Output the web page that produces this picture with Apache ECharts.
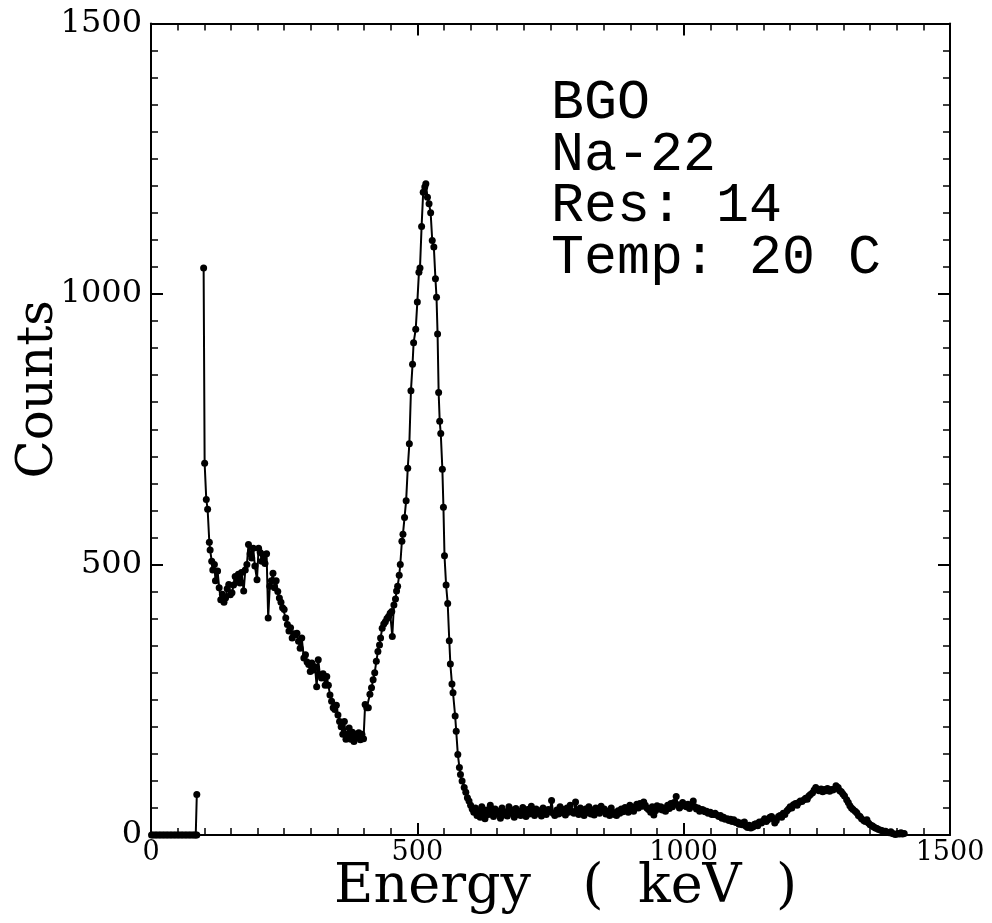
<!DOCTYPE html>
<html>
<head>
<meta charset="utf-8">
<script src="https://cdn.jsdelivr.net/npm/echarts@6/dist/echarts.min.js"></script>
<style>
html,body{margin:0;padding:0;background:#fff;}
#chart{width:992px;height:923px;}
</style>
</head>
<body>
<div id="chart"></div>
<script>
// ---- data ----
const energyKeV = [
  1,4,8,11,15,18,22,25,29,32,36,39,43,46,50,53,57,60,64,67,71,74,78,81,84,86,86,
  90,
  98.8,100.7,103.8,106.3,109.5,111,114,116,119,121,125,128,131,134,137,140,143,146,149,152,155,158,161,164,167,170,174,177,180,183,186,189,192,195,199,202,205,208,211,214,217,220,223,226,229,232,235,238,241,244,247,250,253,256,259,262,265,268,271,274,277,280,283,287,290,293,296,299,302,305,308,311,314,317,320,323,327,330,333,336,339,342,345,348,351,354,357,360,363,366,369,372,375,378,381,384,387,390,393,396,399,
  402,405,408,411,414,417,420,423,426,429,431,434,437,440,443,446,449,452,453,456,459,461,463,466,468,471,473,476,479,482,485,488,491,493,497,500,503,505,508,511,514,516,519,522,525,528,531,534,536,538,540,542,544,547,549,551,554,557,560,562,565,567,571,573,576,579,581,584,588,591,594,597,600,603,
  606,609,612,615,618,621,624,627,630,634,637,640,643,646,650,653,656,659,662,666,669,672,675,678,682,685,688,691,694,698,701,704,707,710,714,717,720,723,726,730,733,736,739,742,746,749,752,755,758,762,765,768,771,774,778,781,784,787,790,794,797,800,803,806,810,813,816,819,822,826,829,832,835,838,842,845,848,851,854,858,861,864,867,870,874,877,880,883,886,890,893,896,899,902,906,909,912,915,918,922,925,928,931,934,938,941,944,947,950,954,957,960,963,966,970,973,976,979,982,986,989,992,995,998,
  1002,1005,1008,1011,1014,1018,1021,1024,1027,1030,1034,1037,1040,1043,1046,1050,1053,1056,1059,1062,1066,1069,1072,1075,1078,1082,1085,1088,1091,1094,1098,1101,1104,1107,1110,1114,1117,1120,1123,1126,1130,1133,1136,1139,1142,1146,1149,1152,1155,1158,1162,1165,1168,1171,1174,1178,1181,1184,1187,1190,1194,1197,1200,1203,1206,1210,1213,1216,1219,1222,1226,1229,1232,1235,1238,1242,1245,1248,1251,1254,1258,1261,1264,1267,1270,1274,1277,1280,1283,1286,1290,1293,1296,1299,1302,1306,1309,1312,1315,1318,1322,1325,1328,1331,1334,1338,1341,1344,1347,1350,1354,1357,1360,1363,1366,1370,1373,1376,1379,1382,1386,1389,1392,1395,1398,1402,1405,1408,1411,1414
];
const counts = [
  0,0,0,0,0,0,0,0,0,0,0,0,0,0,0,0,0,0,0,0,0,0,0,0,0,0,75,
  null,
  1048,687,620,602,541,527,506,490,500,470,488,457,435,445,430,438,455,463,444,448,462,478,470,482,466,485,451,490,500,537,520,512,530,497,472,530,522,506,518,502,520,401,460,470,484,457,470,450,438,430,420,417,401,389,377,383,364,372,370,373,358,345,364,327,333,320,315,302,318,305,311,274,324,296,290,298,277,293,277,259,247,235,232,240,222,210,200,186,210,177,186,198,177,190,173,186,180,189,176,186,178,
  241,235,235,260,272,287,300,321,339,351,364,382,390,394,400,404,410,413,367,425,436,451,460,480,500,543,556,587,618,678,723,821,870,910,935,985,1040,1048,1125,1188,1198,1204,1179,1167,1150,1099,1087,1028,994,926,818,765,742,676,606,516,462,428,359,316,279,263,220,192,149,125,112,100,88,79,69,63,55,48,
  42,50,36,45,33,52,40,30,46,38,55,41,34,48,39,44,31,50,37,43,35,52,40,46,33,49,38,44,36,51,40,34,47,39,53,42,36,48,40,45,35,50,41,38,47,43,64,40,36,46,39,52,41,47,37,50,42,55,44,40,61,45,38,50,43,36,48,41,52,39,46,37,50,44,40,53,45,48,39,44,36,50,42,38,36,45,40,48,43,51,46,42,55,48,44,52,57,50,58,53,61,55,50,47,42,52,37,45,54,48,52,46,50,44,55,49,58,52,60,71,56,50,53,60,
  55,52,57,49,54,63,52,48,50,44,47,46,43,44,40,42,38,38,40,37,34,36,31,33,29,30,27,29,25,28,23,24,20,22,19,24,16,14,18,13,15,20,21,17,24,22,26,30,25,28,33,34,30,22,27,34,36,33,40,38,45,48,52,50,56,58,55,60,63,62,65,68,66,72,75,78,83,88,84,82,85,80,84,82,86,81,84,83,85,91,88,82,80,76,72,65,60,54,50,47,44,41,36,34,30,27,25,28,22,19,17,15,13,12,10,9,8,6,7,5,4,6,3,2,1,3,2,4,2,3
];
const xTickLabels = ['0', '500', '1000', '1500'];
const yTickLabels = ['0', '500', '1000', '1500'];
const infoLines = ['BGO', 'Na-22', 'Res: 14', 'Temp: 20 C'];

const seriesData = energyKeV.map((e, i) => [e, counts[i] === null ? '-' : counts[i]]);

const chart = echarts.init(document.getElementById('chart'), null, {renderer: 'canvas'});
const serif = 'DejaVu Serif';
const axisCommon = {
  type: 'value', min: 0, max: 1500, interval: 500,
  axisLine: {show: true, onZero: false, lineStyle: {color: '#000', width: 2}},
  axisTick: {show: true, inside: true, length: 12, lineStyle: {color: '#000', width: 2}},
  minorTick: {show: true, splitNumber: 10, length: 7, lineStyle: {color: '#000', width: 1.5}},
  splitLine: {show: false},
  minorSplitLine: {show: false}
};
chart.setOption({
  animation: false,
  backgroundColor: '#fff',
  grid: {left: 151, right: 42, top: 23.5, bottom: 88, containLabel: false, outerBoundsMode: 'none'},
  xAxis: [
    Object.assign({}, axisCommon, {
      position: 'bottom',
      name: 'Energy   (  keV  )', nameLocation: 'middle', nameGap: 26, nameMoveOverlap: false,
      nameTextStyle: {fontFamily: serif, fontSize: 54, color: '#000', verticalAlign: 'top', padding: [0, 0, 0, 30]},
      axisLabel: {show: true, margin: 4, fontFamily: serif, fontSize: 27, color: '#000',
        formatter: v => xTickLabels[Math.round(v / 500)]}
    }),
    Object.assign({}, axisCommon, {position: 'top', axisLabel: {show: false}})
  ],
  yAxis: [
    Object.assign({}, axisCommon, {
      position: 'left',
      name: 'Counts', nameLocation: 'middle', nameGap: 87, nameRotate: 90, nameMoveOverlap: false,
      nameTextStyle: {fontFamily: serif, fontSize: 50, color: '#000', padding: [0, 0, 0, 80]},
      axisLabel: {show: true, margin: 9, fontFamily: serif, fontSize: 32, color: '#000',
        formatter: v => yTickLabels[Math.round(v / 500)]}
    }),
    Object.assign({}, axisCommon, {position: 'right', axisLabel: {show: false}})
  ],
  series: [{
    type: 'line', xAxisIndex: 0, yAxisIndex: 0,
    data: seriesData,
    connectNulls: false,
    symbol: 'circle', symbolSize: 7,
    itemStyle: {color: '#000'},
    lineStyle: {color: '#000', width: 2},
    z: 3
  }],
  graphic: infoLines.map((t, i) => ({
    type: 'text', left: 551, top: 76 + i * 51.5,
    style: {text: t, fill: '#000', font: 'normal 55px "Liberation Mono"'}
  }))
});
</script>
</body>
</html>
